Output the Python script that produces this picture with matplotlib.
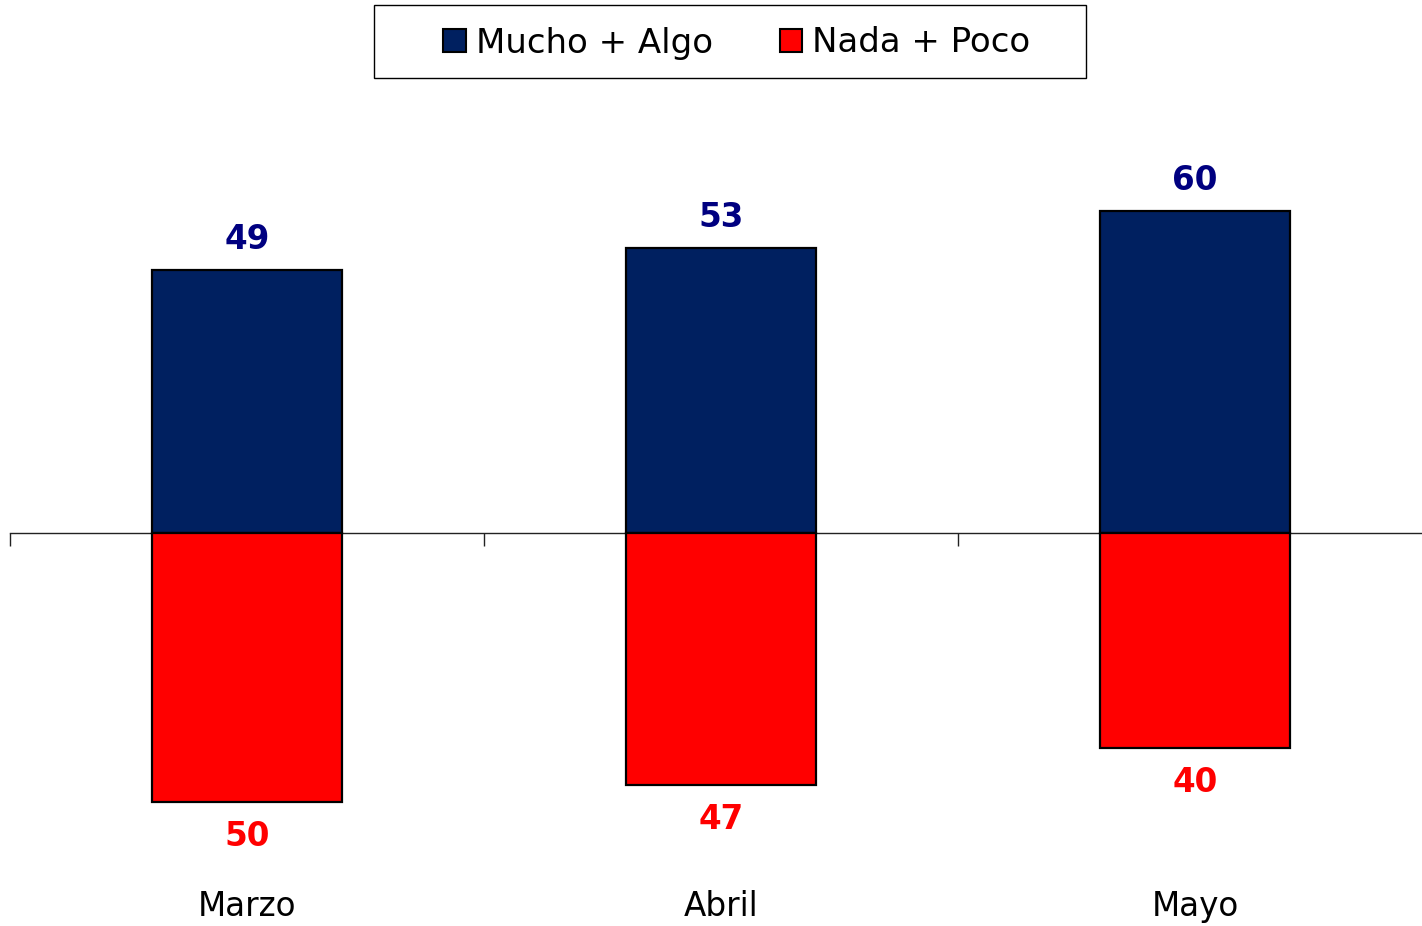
import matplotlib
matplotlib.use("Agg")
import matplotlib.pyplot as plt
from matplotlib.patches import Patch, Rectangle

categories = ["Marzo", "Abril", "Mayo"]
mucho_algo = [49, 53, 60]
nada_poco = [50, 47, 40]
series_names = ["Mucho + Algo", "Nada + Poco"]

BLUE = "#002060"
RED = "#FF0000"
NAVY_TXT = "#000080"

W, H = 1422, 926
fig = plt.figure(figsize=(W / 100, H / 100), dpi=100)
ax = fig.add_axes([0, 0, 1, 1])

px_per_unit = 5.37
cat_px = 474.0
x_left = -0.5 - 10 / cat_px
x_right = x_left + W / cat_px
ax.set_xlim(x_left, x_right)
ax.set_ylim(-(H - 533) / px_per_unit, 533 / px_per_unit)

x = list(range(len(categories)))
ax.bar(x, mucho_algo, width=0.4, color=BLUE, edgecolor="black", linewidth=1.6, zorder=3)
ax.bar(x, [-v for v in nada_poco], width=0.4, color=RED, edgecolor="black", linewidth=1.6, zorder=3)

for xi, v in zip(x, mucho_algo):
    ax.annotate(str(v), (xi, v), xytext=(0, 21 * 0.72), textcoords="offset points",
                ha="center", va="baseline", fontsize=23.5, fontweight="bold", color=NAVY_TXT)
for xi, v in zip(x, nada_poco):
    ax.annotate(str(v), (xi, -v), xytext=(0, -44 * 0.72), textcoords="offset points",
                ha="center", va="baseline", fontsize=23.5, fontweight="bold", color=RED)

label_y = -(916 - 533) / px_per_unit
for xi, c in zip(x, categories):
    ax.text(xi, label_y, c, ha="center", va="baseline", fontsize=23.5, color="black")

for s in ["top", "left", "right"]:
    ax.spines[s].set_visible(False)
ax.spines["bottom"].set_position(("data", 0))
ax.spines["bottom"].set_bounds(-0.5, x_right)
ax.spines["bottom"].set_linewidth(1.0)
ax.spines["bottom"].set_color("#222222")
ax.set_xticks([-0.5, 0.5, 1.5])
ax.set_xticklabels([])
ax.tick_params(axis="x", direction="out", length=9, width=1.0, color="#222222")
ax.set_yticks([])

handles = [Patch(facecolor=BLUE, edgecolor="black", linewidth=1.5),
           Patch(facecolor=RED, edgecolor="black", linewidth=1.5)]
leg = fig.legend(handles, series_names, loc="center", ncol=2,
                 bbox_to_anchor=(737 / W, 1 - 43 / H), fontsize=24.5,
                 frameon=False,
                 handlelength=0.66, handleheight=0.66, handletextpad=0.3,
                 columnspacing=1.95, borderpad=0.55)
fig.patches.append(Rectangle((374 / W, 1 - 78 / H), (1086 - 374) / W, 73 / H,
                             transform=fig.transFigure, fill=False,
                             edgecolor="black", linewidth=1.0))

fig.savefig("out.png", dpi=100)
